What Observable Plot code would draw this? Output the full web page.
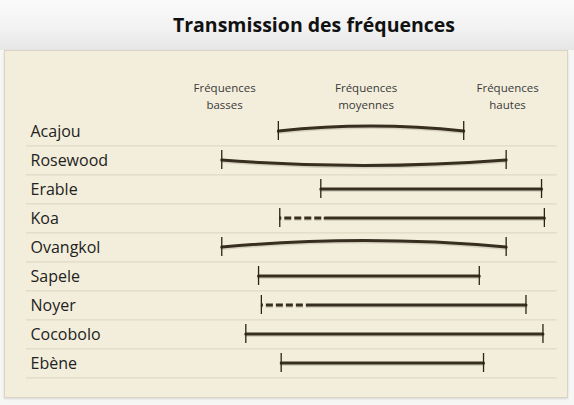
<!DOCTYPE html>
<html>
<head>
<meta charset="utf-8">
<script src="https://cdn.jsdelivr.net/npm/d3@7"></script>
<script src="https://cdn.jsdelivr.net/npm/@observablehq/plot@0.6"></script>
<style>
  html, body { margin: 0; padding: 0; background: #f4f4f2; }
  #wrap { position: relative; width: 574px; height: 405px; overflow: hidden; background: #f6f6f4; }
  #title {
    position: absolute; left: 0; top: 0; width: 574px; height: 50px;
    background: linear-gradient(#fbfbfb, #f1f1f1 60%, #e6e6e6);
    font-family: "Open Sans", Lato, sans-serif; font-weight: bold; font-size: 19.5px;
    line-height: 50px; text-align: center; box-sizing: border-box; padding-left: 54px; color: #111;
  }
  #panel {
    position: absolute; left: 4px; top: 50px; width: 562px; height: 346px;
    background: #f3eedb; border: 1px solid #d9d4c3; box-shadow: 0 1px 2px rgba(0,0,0,0.12);
  }
  #chart { position: absolute; left: 0; top: 50px; }
</style>
</head>
<body>
<div id="wrap">
  <div id="title">Transmission des fréquences</div>
  <div id="panel"></div>
  <div id="chart"></div>
</div>
<script>
// Bois (rows, top to bottom)
const woods = ["Acajou", "Rosewood", "Erable", "Koa", "Ovangkol", "Sapele", "Noyer", "Cocobolo", "Ebène"];
// Frequency range on a 1 (basses) – 2 (moyennes) – 3 (hautes) scale
const lows  = [1.38, 0.98, 1.68, 1.39, 0.98, 1.24, 1.26, 1.15, 1.40];
const highs = [2.69, 2.99, 3.24, 3.26, 2.99, 2.80, 3.13, 3.25, 2.83];
// End of the dashed (uncertain) portion, if any
const dashEnds = [null, null, null, 1.71, null, null, 1.59, null, null];
// Curvature of the response (degrees of bend; + = bulge up, - = sag)
const bends = [6.2, -4.4, 0, 0, 5.2, 0, 0, 0, 0];
// Column headers
const headerPos = [1, 2, 3];
const headerLabels = ["Fréquences\nbasses", "Fréquences\nmoyennes", "Fréquences\nhautes"];

const rows = woods.map((wood, i) => ({wood, low: lows[i], high: highs[i], dashEnd: dashEnds[i], bend: bends[i]}));
const headers = headerPos.map((x, i) => ({x, label: headerLabels[i]}));

const lineColor = "#382e20";

const marks = [
  Plot.ruleY(woods.map(w => ({wood: w})), {y: "wood", dy: 14.9, stroke: "#d9d3bd", strokeWidth: 1}),
  Plot.text(headers, {x: "x", text: "label", frameAnchor: "top", lineAnchor: "bottom", dy: -4,
    fontSize: 11.5, lineHeight: 1.4, fill: "#3a3a3a"}),
  Plot.text(woods, {y: d => d, text: d => d, frameAnchor: "left", textAnchor: "start", dx: 4, dy: 1,
    fontSize: 16, fill: "#222"}),
  // dashed segments
  Plot.ruleY(rows.filter(d => d.dashEnd != null), {y: "wood", x1: "low", x2: "dashEnd", dy: 1.5,
    stroke: "#000", strokeOpacity: 0.12, strokeWidth: 3, strokeDasharray: "7,3", strokeDashoffset: 5}),
  Plot.ruleY(rows.filter(d => d.dashEnd != null), {y: "wood", x1: "low", x2: "dashEnd",
    stroke: lineColor, strokeWidth: 3, strokeDasharray: "7,3", strokeDashoffset: 5}),
  // solid / curved segments
  ...rows.map(r => Plot.arrow([r], {x1: d => d.dashEnd ?? d.low, x2: "high", y1: "wood", y2: "wood",
    bend: r.bend, headLength: 0, dy: 1.5, stroke: "#000", strokeOpacity: 0.12, strokeWidth: 3})),
  ...rows.map(r => Plot.arrow([r], {x1: d => d.dashEnd ?? d.low, x2: "high", y1: "wood", y2: "wood",
    bend: r.bend, headLength: 0, stroke: lineColor, strokeWidth: 3})),
  // end ticks
  Plot.tickX(rows, {x: "low", y: "wood", insetTop: 5, insetBottom: 5, stroke: "#2a2216", strokeWidth: 1.3}),
  Plot.tickX(rows, {x: "high", y: "wood", insetTop: 5, insetBottom: 5, stroke: "#2a2216", strokeWidth: 1.3})
];

const chart = Plot.plot({
  width: 574,
  height: 355,
  marginTop: 62,
  marginBottom: 25,
  marginLeft: 26,
  marginRight: 17.4,
  style: {background: "transparent", fontFamily: "'Open Sans', Lato, sans-serif"},
  x: {domain: [-0.4, 3.35], axis: null},
  y: {domain: woods, type: "band", padding: 0, axis: null},
  marks
});
document.getElementById("chart").appendChild(chart);
</script>
</body>
</html>
